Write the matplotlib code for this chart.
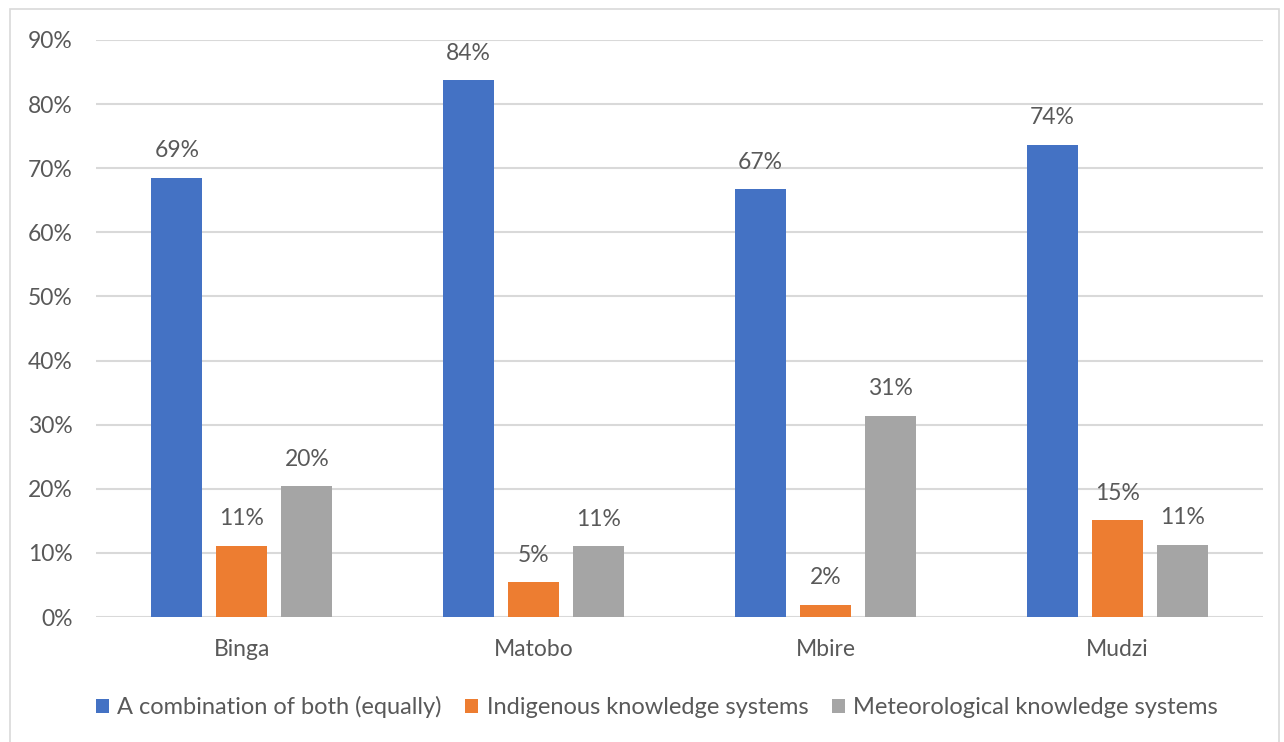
import matplotlib
matplotlib.use("Agg")
import matplotlib.pyplot as plt
from matplotlib.patches import Rectangle
import numpy as np

plt.rcParams['font.family'] = ['Lato', 'DejaVu Sans']

categories = ["Binga", "Matobo", "Mbire", "Mudzi"]
series_names = ["A combination of both (equally)", "Indigenous knowledge systems",
                "Meteorological knowledge systems"]
combo = [68.5, 83.7, 66.7, 73.6]
indigenous = [11.1, 5.4, 1.9, 15.1]
meteo = [20.4, 11.0, 31.4, 11.3]
labels_combo = [69, 84, 67, 74]
labels_ind = [11, 5, 2, 15]
labels_met = [20, 11, 31, 11]
yticks = [0, 10, 20, 30, 40, 50, 60, 70, 80, 90]

colors = ["#4472C4", "#ED7D31", "#A5A5A5"]
text_color = "#595959"
fs = 16.5

fig = plt.figure(figsize=(12.84, 7.42), dpi=100)
ax = fig.add_axes([96/1284, 1 - 617/742, (1263-96)/1284, (617-40)/742])

x = np.arange(len(categories))
w = 0.175
off = 0.223
data = [combo, indigenous, meteo]
labs = [labels_combo, labels_ind, labels_met]
for i, (vals, lab) in enumerate(zip(data, labs)):
    bars = ax.bar(x + (i - 1) * off, vals, width=w, color=colors[i], label=series_names[i], zorder=3)
    for b, l in zip(bars, lab):
        ax.annotate(f"{l}%", (b.get_x() + b.get_width()/2, b.get_height()),
                    xytext=(0, 12), textcoords="offset points", ha="center", va="bottom",
                    fontsize=fs, color=text_color)

ax.set_xlim(-0.5, 3.5)
ax.set_ylim(0, 90)
ax.set_yticks(yticks)
ax.set_yticklabels([f"{t}%" for t in yticks])
ax.set_xticks(x)
ax.set_xticklabels(categories)
ax.tick_params(axis='both', length=0, labelsize=fs, colors=text_color)
ax.tick_params(axis='y', pad=17)
ax.tick_params(axis='x', pad=16)
ax.grid(axis='y', color="#D9D9D9", linewidth=1.5, zorder=0)
for s in ax.spines.values():
    s.set_visible(False)

leg = fig.legend(loc="center", bbox_to_anchor=(657/1284, 1 - 707/742), ncol=3, frameon=False,
                 fontsize=17, handlelength=0.55, handleheight=0.55, handletextpad=0.35,
                 columnspacing=1.0, labelcolor=text_color)

fig.patches.append(Rectangle((10/1284, -0.01), (1279-10)/1284, 1 - 9/742 + 0.01,
                             transform=fig.transFigure, fill=False, edgecolor="#D9D9D9",
                             linewidth=1.2))

fig.savefig("out.png", dpi=100, facecolor="white")
